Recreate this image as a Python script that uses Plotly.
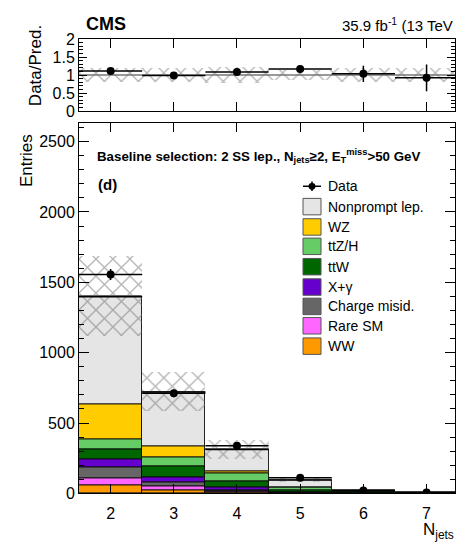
import plotly.graph_objects as go
import numpy as np

W, H = 456, 546

njets = [2, 3, 4, 5, 6, 7]
ww = [60, 23, 7, 1, 0.3, 0.1]
rare = [46, 25, 9, 2, 0.6, 0.2]
chmisid = [76, 28, 7, 2, 0.5, 0.1]
xgamma = [62, 41, 18, 3, 0.6, 0.1]
ttw = [71, 74, 44, 13, 4, 1.2]
ttzh = [69, 69, 60, 22, 7, 2.2]
wz = [248, 78, 14, 3, 0.8, 0.2]
nonprompt = [766, 382, 153, 50, 6.5, 2.4]
data = [1555, 711, 338, 112, 21, 6]
data_err = [39, 27, 18, 11, 4.6, 2.4]
unc = [285, 140, 68, 14, 4, 1.2]

components = [
    ("WW", ww, "#ff9900"),
    ("Rare SM", rare, "#ff66ff"),
    ("Charge misid.", chmisid, "#666666"),
    ("X+γ", xgamma, "#6600cc"),
    ("ttW", ttw, "#006600"),
    ("ttZ/H", ttzh, "#66cc66"),
    ("WZ", wz, "#ffcc00"),
    ("Nonprompt lep.", nonprompt, "#e5e5e5"),
]

FONT = "Liberation Sans, Arial, Helvetica, sans-serif"

def px(x):
    return x / W

def py(y):
    return 1 - y / H

HATCH = dict(shape="x", fgcolor="#707070", bgcolor="rgba(0,0,0,0)", size=12, solidity=0.22)

fig = go.Figure()

base = np.zeros(len(njets))
for name, vals, col in components:
    v = np.array(vals, dtype=float)
    fig.add_trace(go.Bar(x=njets, y=v, base=base, width=1, name=name,
                         marker=dict(color=col, line=dict(color="rgba(0,0,0,0.85)", width=1)),
                         showlegend=False, xaxis="x", yaxis="y"))
    base = base + v
total = base

unc_a = np.array(unc, dtype=float)
fig.add_trace(go.Bar(x=njets, y=2 * unc_a, base=total - unc_a, width=1,
                     marker=dict(color="rgba(0,0,0,0)", line=dict(width=0), pattern=HATCH),
                     showlegend=False, xaxis="x", yaxis="y"))
# stack outline on top
fig.add_trace(go.Scatter(x=njets, y=total, mode="markers",
                         marker=dict(size=0.1, color="rgba(0,0,0,0)"),
                         error_x=dict(type="constant", value=0.5, width=0, color="black", thickness=1.5),
                         showlegend=False, xaxis="x", yaxis="y", hoverinfo="skip"))
fig.add_trace(go.Scatter(x=njets, y=data, mode="markers",
                         marker=dict(size=8, color="black"),
                         error_x=dict(type="constant", value=0.5, width=0, color="black", thickness=1.5),
                         error_y=dict(type="data", array=data_err, width=0, color="black", thickness=1.5),
                         showlegend=False, xaxis="x", yaxis="y"))

# ratio panel
rel = unc_a / total
fig.add_trace(go.Bar(x=njets, y=2 * rel, base=1 - rel, width=1,
                     marker=dict(color="rgba(0,0,0,0)", line=dict(width=0), pattern=HATCH),
                     showlegend=False, xaxis="x2", yaxis="y2"))
ratio = np.array(data) / total
ratio_err = np.array(data_err) / total
fig.add_trace(go.Scatter(x=njets, y=ratio, mode="markers",
                         marker=dict(size=8, color="black"),
                         error_x=dict(type="constant", value=0.5, width=0, color="black", thickness=1.5),
                         error_y=dict(type="data", array=ratio_err, width=0, color="black", thickness=1.5),
                         showlegend=False, xaxis="x2", yaxis="y2"))

xdom = [px(79), px(455)]
common_x = dict(domain=xdom, range=[1.5, 7.45], tickvals=njets, ticks="inside", ticklen=9,
                showline=True, linecolor="black", linewidth=1, mirror="ticks",
                showgrid=False, zeroline=False, tickcolor="black",
                tickfont=dict(family=FONT, size=16, color="black"))

shapes = [
    dict(type="line", xref="x2", yref="y2", x0=1.5, x1=7.45, y0=1, y1=1,
         line=dict(color="#999999", width=2), layer="below"),
]
annotations = []

# legend
leg_x0, leg_x1 = 303, 321
rows = [184, 205, 226, 246, 267, 288, 308, 328, 349]
yd = rows[0]
shapes += [
    dict(type="line", xref="paper", yref="paper", x0=px(leg_x0), x1=px(leg_x1), y0=py(yd), y1=py(yd),
         line=dict(color="black", width=1.5)),
    dict(type="line", xref="paper", yref="paper", x0=px(312), x1=px(312), y0=py(yd - 5), y1=py(yd + 5),
         line=dict(color="black", width=1.5)),
    dict(type="circle", xref="paper", yref="paper", x0=px(308.5), x1=px(315.5), y0=py(yd - 3.5), y1=py(yd + 3.5),
         fillcolor="black", line=dict(color="black", width=0)),
]
annotations.append(dict(x=px(326), y=py(yd), xref="paper", yref="paper", text="Data", showarrow=False,
                        xanchor="left", yanchor="middle", font=dict(family=FONT, size=14, color="black")))
leg_order = list(reversed(components))
for (name, vals, col), yr in zip(leg_order, rows[1:]):
    shapes.append(dict(type="rect", xref="paper", yref="paper", x0=px(leg_x0), x1=px(leg_x1),
                       y0=py(yr - 8.5), y1=py(yr + 8.5), fillcolor=col, line=dict(color="#555555", width=1)))
    annotations.append(dict(x=px(326), y=py(yr), xref="paper", yref="paper", text=name, showarrow=False,
                            xanchor="left", yanchor="middle", font=dict(family=FONT, size=14, color="black")))

annotations += [
    dict(x=px(84), y=py(17), xref="paper", yref="paper", text="<b>CMS</b>", showarrow=False,
         xanchor="left", yanchor="middle", font=dict(family=FONT, size=18, color="black")),
    dict(x=px(455), y=py(17), xref="paper", yref="paper", text="35.9 fb<sup>-1</sup> (13 TeV", showarrow=False,
         xanchor="right", yanchor="middle", font=dict(family=FONT, size=15, color="black")),
    dict(x=px(35), y=py(60), xref="paper", yref="paper", text="Data/Pred.", showarrow=False, textangle=-90,
         xanchor="center", yanchor="middle", font=dict(family=FONT, size=17, color="black")),
    dict(x=px(26), y=py(158), xref="paper", yref="paper", text="Entries", showarrow=False, textangle=-90,
         xanchor="center", yanchor="middle", font=dict(family=FONT, size=17, color="black")),
    dict(x=px(95), y=py(153), xref="paper", yref="paper",
         text="<b>Baseline selection: 2 SS lep., N<sub>jets</sub>≥2, E<sub>T</sub><sup>miss</sup>>50 GeV</b>",
         showarrow=False, xanchor="left", yanchor="middle", font=dict(family=FONT, size=13.3, color="black")),
    dict(x=px(96), y=py(182), xref="paper", yref="paper", text="<b>(d)</b>", showarrow=False,
         xanchor="left", yanchor="middle", font=dict(family=FONT, size=15, color="black")),
    dict(x=px(456), y=py(540), xref="paper", yref="paper", text="N<sub>jets</sub>", showarrow=False,
         xanchor="right", yanchor="middle", font=dict(family=FONT, size=17, color="black")),
]

fig.update_layout(
    width=W, height=H, margin=dict(l=0, r=0, t=0, b=0),
    paper_bgcolor="white", plot_bgcolor="white", barmode="overlay", bargap=0,
    showlegend=False,
    xaxis=dict(anchor="y", ticklabelstandoff=5, **common_x),
    xaxis2=dict(anchor="y2", matches="x", showticklabels=False, **common_x),
    yaxis=dict(domain=[py(501), py(119)], range=[0, 2630], tickvals=[0, 500, 1000, 1500, 2000, 2500],
               ticks="inside", ticklen=10, tickcolor="black", showline=True, linecolor="black", linewidth=1,
               mirror="ticks", showgrid=False, zeroline=False,
               minor=dict(dtick=100, ticks="inside", ticklen=5, tickcolor="black", showgrid=False),
               tickfont=dict(family=FONT, size=16, color="black")),
    yaxis2=dict(domain=[py(106.5), py(32)], range=[0, 2], tickvals=[0, 0.5, 1, 1.5, 2],
                ticktext=["0", "0.5", "1", "1.5", "2"],
                ticks="inside", ticklen=8, tickcolor="black", showline=True, linecolor="black", linewidth=1,
                mirror="ticks", showgrid=False, zeroline=False,
                minor=dict(dtick=0.1, ticks="inside", ticklen=4, tickcolor="black", showgrid=False),
                tickfont=dict(family=FONT, size=16, color="black")),
    shapes=shapes, annotations=annotations,
)

fig.write_html("out.html")
